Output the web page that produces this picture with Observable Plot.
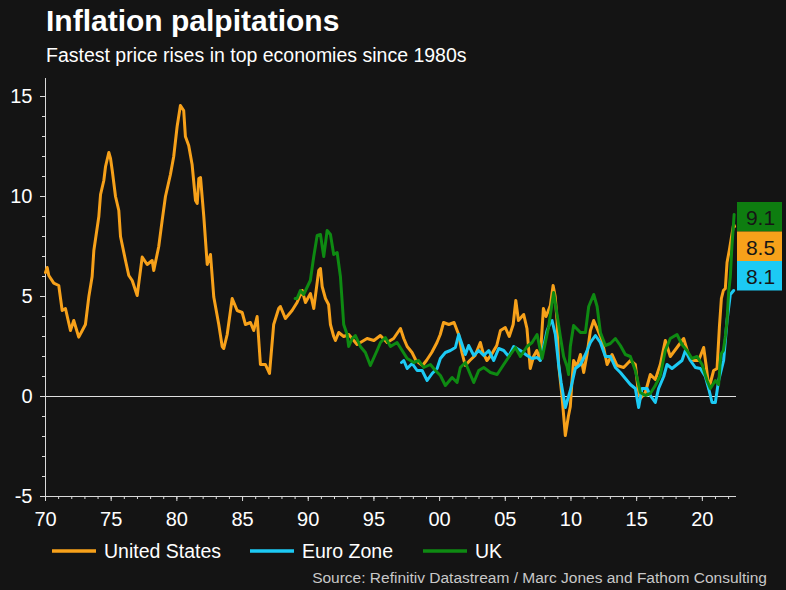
<!DOCTYPE html>
<html>
<head>
<meta charset="utf-8">
<script src="https://cdn.jsdelivr.net/npm/d3@7"></script>
<script src="https://cdn.jsdelivr.net/npm/@observablehq/plot@0.6"></script>
<style>
  html, body { margin: 0; padding: 0; background: #141414; }
  #chart { width: 786px; height: 590px; }
</style>
</head>
<body>
<div id="chart"></div>
<script>
// ---- Data ----
const seriesNames = ["United States", "Euro Zone", "UK"];
const seriesColors = ["#f7a11a", "#1ccaf4", "#0e8a12"];

const usYears = [1970.0,1970.13,1970.25,1970.63,1971.01,1971.27,1971.52,1971.9,1972.15,1972.53,1972.8,1973.04,1973.3,1973.55,1973.68,1974.06,1974.19,1974.44,1974.57,1974.82,1974.95,1975.08,1975.33,1975.58,1975.71,1976.09,1976.34,1976.6,1976.98,1977.36,1977.74,1978.12,1978.24,1978.62,1978.88,1979.13,1979.51,1979.76,1980.02,1980.27,1980.52,1980.65,1980.9,1981.16,1981.42,1981.55,1981.67,1981.8,1982.05,1982.31,1982.56,1982.81,1983.19,1983.45,1983.57,1983.83,1984.21,1984.59,1984.97,1985.22,1985.6,1985.85,1986.11,1986.36,1986.74,1987.05,1987.37,1987.75,1987.88,1988.26,1988.77,1989.15,1989.54,1989.79,1990.17,1990.42,1990.8,1990.93,1991.06,1991.31,1991.55,1991.69,1991.94,1992.07,1992.32,1992.7,1993.08,1993.72,1994.48,1995.0,1995.49,1996.0,1996.5,1997.02,1997.27,1997.53,1997.9,1998.2,1998.7,1999.0,1999.4,1999.8,2000.05,2000.3,2000.7,2001.1,2001.45,2001.7,2001.95,2002.3,2002.7,2003.1,2003.3,2003.6,2003.95,2004.35,2004.63,2005.0,2005.3,2005.6,2005.8,2006.0,2006.4,2006.65,2006.9,2007.15,2007.4,2007.65,2007.9,2008.1,2008.43,2008.64,2008.8,2008.94,2009.06,2009.32,2009.57,2009.8,2009.95,2010.08,2010.2,2010.45,2010.72,2010.97,2011.22,2011.48,2011.73,2011.99,2012.37,2012.75,2013.13,2013.51,2014.01,2014.52,2014.9,2015.1,2015.28,2015.66,2016.04,2016.42,2016.8,2017.18,2017.56,2018.07,2018.58,2018.96,2019.34,2019.72,2020.1,2020.3,2020.5,2020.86,2021.12,2021.3,2021.45,2021.6,2021.75,2021.88,2022.05,2022.2,2022.38,2022.45];
const usValues = [6.2,6.45,6.05,5.67,5.55,4.3,4.4,3.3,3.8,2.97,3.3,3.6,5.0,6.0,7.3,9.0,10.1,10.8,11.5,12.2,11.9,11.3,10.0,9.3,8.0,6.8,6.05,5.8,5.05,6.97,6.6,6.8,6.3,7.5,8.8,10.0,11.1,12.0,13.5,14.55,14.3,13.0,12.55,11.6,9.8,9.65,10.9,10.95,9.0,6.6,7.1,4.97,3.6,2.5,2.4,3.1,4.9,4.3,4.2,3.6,3.7,3.3,4.0,1.6,1.6,1.15,3.6,4.4,4.5,3.9,4.3,4.7,5.3,4.7,5.15,4.4,6.3,6.4,5.5,4.9,4.6,3.6,3.0,2.8,3.2,3.0,3.1,2.6,2.9,2.8,3.05,2.7,2.9,3.4,2.9,2.5,2.2,1.8,1.55,1.8,2.2,2.7,3.1,3.7,3.6,3.7,3.1,2.2,1.55,1.8,2.05,2.7,2.2,1.8,2.1,2.55,3.3,3.45,3.0,3.6,4.8,3.8,4.1,3.4,1.4,2.0,2.3,1.8,4.4,4.0,4.55,5.55,5.0,3.8,1.6,0.0,-1.95,-1.0,-0.5,0.8,1.8,1.5,2.1,1.2,2.1,3.3,3.8,3.4,2.8,1.6,2.1,1.55,1.45,1.8,1.6,0.4,-0.1,0.2,1.1,0.85,1.6,2.8,2.0,2.45,2.9,2.05,1.8,1.8,2.45,1.5,0.4,1.3,1.4,3.5,4.9,5.3,5.4,6.7,7.3,7.9,8.6,8.5];

const euYears = [1997.1,1997.27,1997.53,1997.91,1998.29,1998.67,1999.05,1999.43,1999.81,2000.06,2000.44,2000.82,2001.2,2001.45,2001.71,2001.96,2002.21,2002.6,2002.98,2003.36,2003.74,2004.12,2004.5,2004.88,2005.26,2005.64,2006.15,2006.66,2007.04,2007.42,2007.67,2007.92,2008.18,2008.43,2008.56,2008.81,2009.06,2009.25,2009.57,2009.95,2010.33,2010.72,2011.1,2011.48,2011.86,2012.24,2012.62,2013.0,2013.38,2013.76,2014.14,2014.52,2014.9,2015.15,2015.41,2015.79,2016.04,2016.42,2016.67,2017.06,2017.31,2017.69,2018.07,2018.45,2018.71,2019.09,2019.47,2019.85,2020.23,2020.48,2020.74,2020.99,2021.24,2021.62,2021.88,2022.13,2022.38];
const euValues = [1.7,1.8,1.4,1.65,1.3,1.3,0.8,1.15,1.4,1.9,2.2,2.3,2.45,3.1,2.6,2.1,2.55,2.05,2.3,2.05,2.3,1.8,2.4,2.3,2.0,2.5,2.3,2.05,1.9,1.95,1.8,2.5,3.3,3.7,3.8,3.1,1.6,0.7,-0.55,0.3,1.4,1.6,2.1,2.7,3.05,2.7,2.0,2.0,1.45,1.2,0.9,0.6,0.4,-0.55,0.4,0.4,0.05,-0.3,0.4,1.0,1.6,1.4,1.6,1.8,2.3,1.8,1.45,1.4,1.0,0.4,-0.3,-0.3,0.8,1.8,3.8,5.1,5.3];

const ukYears = [1989.0,1989.15,1989.4,1989.65,1990.16,1990.42,1990.68,1990.93,1991.18,1991.44,1991.69,1991.94,1992.2,1992.45,1992.7,1992.96,1993.08,1993.35,1993.59,1993.97,1994.35,1994.73,1995.24,1995.5,1995.87,1996.26,1996.76,1997.15,1997.53,1998.03,1998.41,1998.79,1999.3,1999.68,2000.06,2000.44,2000.95,2001.33,2001.58,2001.96,2002.34,2002.6,2002.98,2003.36,2003.87,2004.38,2004.88,2005.39,2005.77,2006.15,2006.66,2007.04,2007.42,2007.67,2007.8,2008.3,2008.68,2008.94,2009.19,2009.44,2009.7,2009.82,2009.95,2010.2,2010.72,2011.1,2011.35,2011.73,2011.99,2012.24,2012.62,2013.0,2013.38,2013.76,2014.14,2014.52,2014.9,2015.28,2015.66,2016.04,2016.42,2016.8,2017.18,2017.56,2018.07,2018.45,2018.83,2019.21,2019.6,2019.98,2020.36,2020.61,2020.99,2021.24,2021.4,2021.6,2021.75,2021.88,2022.0,2022.13,2022.25,2022.42];
const ukValues = [4.9,4.9,5.3,5.1,5.8,7.0,8.05,8.1,7.0,8.3,8.1,7.1,7.2,6.0,3.6,3.1,2.5,2.9,3.05,2.5,2.2,1.55,2.3,2.7,2.95,2.5,2.7,2.3,1.9,1.7,1.8,1.45,1.6,1.3,1.05,0.55,0.95,0.7,1.45,1.7,1.1,0.7,1.3,1.45,1.2,1.1,1.6,2.1,2.45,2.0,2.5,2.7,3.1,2.3,1.9,3.5,5.2,4.1,3.0,2.0,1.5,1.1,2.5,3.55,3.2,3.2,4.5,5.1,4.5,3.2,2.55,2.65,2.9,2.55,2.1,2.0,1.3,0.2,0.05,0.15,0.55,1.05,2.3,2.9,3.1,2.6,2.3,1.9,2.0,1.6,0.8,0.4,0.8,0.6,2.1,2.3,3.0,3.8,5.2,6.0,7.5,9.1];

// latest readings shown in the end labels (top to bottom)
const endLabels = ["9.1", "8.5", "8.1"];
const endLabelColors = ["#0e7d10", "#f7a11a", "#1ccaf4"];

const yMajorTicks = [-5, 0, 5, 10, 15];
const yMinorTicks = d3.range(-5, 16, 1);
const xMajorTicks = d3.range(1970, 2021, 5);
const xMinorTicks = d3.range(1970, 2023, 1);

const titleText = "Inflation palpitations";
const subtitleText = "Fastest price rises in top economies since 1980s";
const sourceText = "Source: Refinitiv Datastream / Marc Jones and Fathom Consulting";

// ---- Build table ----
const rows = [];
[[usYears, usValues], [euYears, euValues], [ukYears, ukValues]].forEach(([ys, vs], i) => {
  ys.forEach((yr, j) => rows.push({series: seriesNames[i], year: yr, value: vs[j]}));
});

const font = "'Liberation Sans', Arial, Helvetica, sans-serif";
const axisColor = "#d9d9d9";

const chart = Plot.plot({
  width: 786,
  height: 590,
  marginLeft: 45,
  marginRight: 50,
  marginTop: 78,
  marginBottom: 94,
  style: {background: "#141414", color: "#ffffff", fontFamily: font, overflow: "visible"},
  x: {domain: [1970, 2022.6]},
  y: {domain: [-5, 15.9]},
  color: {domain: seriesNames, range: seriesColors},
  marks: [
    Plot.ruleY([0], {stroke: "#e0e0e0", strokeWidth: 1}),
    Plot.ruleX([1970], {stroke: axisColor, strokeWidth: 1}),
    Plot.ruleY([-5], {stroke: axisColor, strokeWidth: 1}),
    Plot.axisY({ticks: yMinorTicks, tickSize: 3, stroke: axisColor, fill: "none"}),
    Plot.axisY({ticks: yMajorTicks, tickSize: 5, tickPadding: 8, stroke: axisColor, fill: "#ffffff", fontSize: 20, tickFormat: d => String(d), label: null}),
    Plot.axisX({ticks: xMinorTicks, tickSize: 3, stroke: axisColor, fill: "none"}),
    Plot.axisX({ticks: xMajorTicks, tickSize: 5, tickPadding: 10, stroke: axisColor, fill: "#ffffff", fontSize: 20,
      tickFormat: d => String(d % 100).padStart(2, "0"), label: null}),
    Plot.lineY(rows, {x: "year", y: "value", stroke: "series", z: "series", strokeWidth: 3, strokeLinejoin: "round", strokeLinecap: "round"})
  ]
});

const svg = d3.select(chart);
const yScale = chart.scale("y");

// Title & subtitle
svg.append("text").attr("x", 46).attr("y", 31).attr("fill", "#ffffff").attr("text-anchor", "start")
  .attr("font-family", font).attr("font-size", 30).attr("font-weight", "bold").text(titleText);
svg.append("text").attr("x", 46).attr("y", 62).attr("fill", "#ffffff").attr("text-anchor", "start")
  .attr("font-family", font).attr("font-size", 19.5).text(subtitleText);

// End labels (stacked boxes anchored near the highest latest value)
const boxW = 45, boxH = 29.5, boxX = 737;
const boxTop = yScale.apply(9.1) - 12;
endLabels.forEach((lab, i) => {
  const g = svg.append("g");
  g.append("rect").attr("x", boxX).attr("y", boxTop + i * boxH).attr("width", boxW).attr("height", boxH)
    .attr("fill", endLabelColors[i]);
  g.append("text").attr("x", boxX + boxW / 2 + 1).attr("y", boxTop + i * boxH + boxH / 2 + 1)
    .attr("text-anchor", "middle").attr("dominant-baseline", "central")
    .attr("font-family", font).attr("font-size", 21).attr("fill", "#161616").text(lab);
});

// Legend
const legendX = [52, 250, 423];
seriesNames.forEach((name, i) => {
  svg.append("line").attr("x1", legendX[i]).attr("x2", legendX[i] + 44).attr("y1", 551).attr("y2", 551)
    .attr("stroke", seriesColors[i]).attr("stroke-width", 3.5);
  svg.append("text").attr("x", legendX[i] + 52).attr("y", 558).attr("fill", "#ffffff").attr("text-anchor", "start")
    .attr("font-family", font).attr("font-size", 19.5).text(name);
});

// Source
svg.append("text").attr("x", 767).attr("y", 583).attr("text-anchor", "end").attr("fill", "#c8c8c8")
  .attr("font-family", font).attr("font-size", 15.5).text(sourceText);

document.getElementById("chart").appendChild(chart);
</script>
</body>
</html>
